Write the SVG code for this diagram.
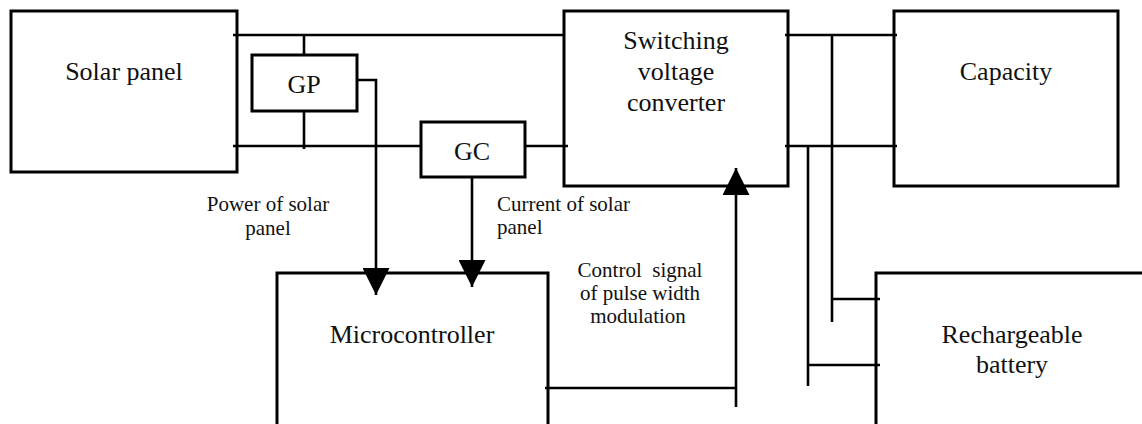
<svg xmlns="http://www.w3.org/2000/svg" width="1142" height="424" viewBox="0 0 1142 424">
<defs>
<style>
.box{fill:#fff;stroke:#000;stroke-width:3}
.open{fill:none;stroke:#000;stroke-width:3}
.w{fill:none;stroke:#000;stroke-width:2.6}
.t{font-size:26px;fill:#111;text-anchor:middle}
.s{font-size:21px;fill:#111}
</style>
<marker id="arr" markerUnits="userSpaceOnUse" markerWidth="27" markerHeight="27" viewBox="0 0 27 27" refX="27" refY="13.5" orient="auto">
<path d="M0,0 L27,13.5 L0,27 Z" fill="#000"/>
</marker>
</defs>
<rect width="1142" height="424" fill="#fff"/>

<g font-family="'Liberation Serif', Tinos, 'Times New Roman', 'DejaVu Serif', serif">
<g id="solar-panel">
<rect class="box" x="11" y="11" width="226" height="161"/>
<text class="t" x="124" y="80">Solar panel</text>
</g>

<g id="switching-voltage-converter">
<rect class="box" x="564" y="11" width="224" height="175"/>
<text class="t" x="676" y="49">Switching</text>
<text class="t" x="676" y="80">voltage</text>
<text class="t" x="676" y="111">converter</text>
</g>

<g id="capacity">
<rect class="box" x="894" y="11" width="224" height="175"/>
<text class="t" x="1006" y="80">Capacity</text>
</g>

<g id="microcontroller">
<path class="open" d="M277,426 V273 H548 V426"/>
<text class="t" x="412" y="343">Microcontroller</text>
</g>

<g id="rechargeable-battery">
<path class="open" d="M876,426 V273 H1144"/>
<text class="t" x="1012" y="343">Rechargeable</text>
<text class="t" x="1012" y="373">battery</text>
</g>

<g id="connectors">
<path class="w" d="M233,35 H564"/>
<path class="w" d="M233,146 H421"/>
<path class="w" d="M525,146 H568"/>
<path class="w" d="M304,35 V59"/>
<path class="w" d="M304,102 V149"/>
<path class="w" d="M353,80 H376 V295" marker-end="url(#arr)"/>
<path class="w" d="M472,168 V287" marker-end="url(#arr)"/>
<path class="w" d="M545,388 H736"/>
<path class="w" d="M736,407 V168" marker-end="url(#arr)"/>
<path class="w" d="M785,35 H897"/>
<path class="w" d="M785,146 H897"/>
<path class="w" d="M832,35 V322"/>
<path class="w" d="M808,146 V386"/>
<path class="w" d="M832,299 H880"/>
<path class="w" d="M808,365 H880"/>
<text class="s" x="268" y="211" text-anchor="middle">Power of solar</text>
<text class="s" x="268" y="235" text-anchor="middle">panel</text>
<text class="s" x="497" y="211">Current of solar</text>
<text class="s" x="497" y="234">panel</text>
<text class="s" x="640" y="277" text-anchor="middle" xml:space="preserve">Control  signal</text>
<text class="s" x="640" y="300" text-anchor="middle">of pulse width</text>
<text class="s" x="638" y="323" text-anchor="middle">modulation</text>
</g>

<g id="gp">
<rect class="box" x="252" y="55" width="105" height="56"/>
<text class="t" x="304" y="93">GP</text>
</g>

<g id="gc">
<rect class="box" x="421" y="122" width="104" height="55"/>
<text class="t" x="472" y="160">GC</text>
</g>
</g>
</svg>
